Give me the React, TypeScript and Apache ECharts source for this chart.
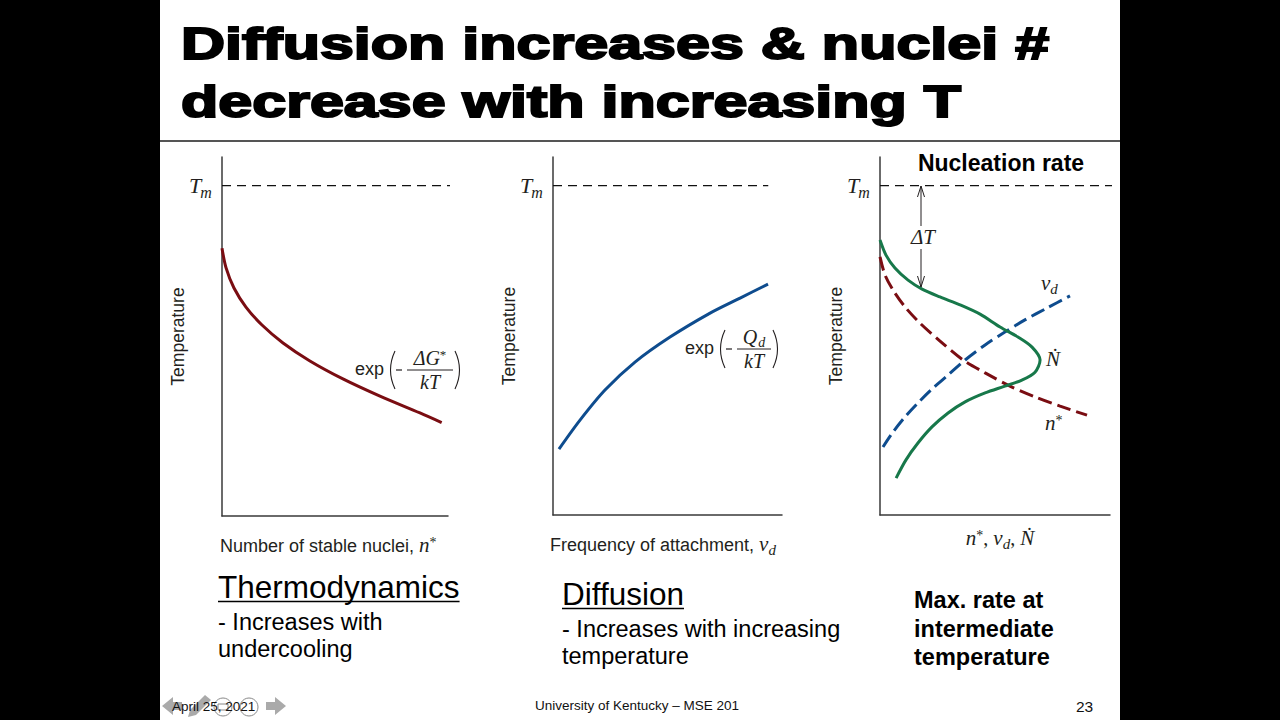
import React, { useEffect, useRef } from "react";
import * as echarts from "echarts";

// ---- Slide text ----
const TITLE_LINES = ["Diffusion increases & nuclei #", "decrease with increasing T"];
const PANEL_TITLE = "Nucleation rate";
const Y_NAME = "Temperature";
const X_NAME_LEFT = "Number of stable nuclei, ";
const X_NAME_MID = "Frequency of attachment, ";
const NOTE_LEFT = ["Thermodynamics", "- Increases with", "undercooling"];
const NOTE_MID = ["Diffusion", "- Increases with increasing", "temperature"];
const NOTE_RIGHT = ["Max. rate at", "intermediate", "temperature"];
const FOOTER_DATE = "April 25, 2021";
const FOOTER_CENTER = "University of Kentucky \u2013 MSE 201";
const FOOTER_PAGE = "23";

// ---- Curve data (x: relative amount, y: relative temperature, both 0..100) ----
const TM = 92;
const TM_LINE_END = [105, 94, 101.7];
// Left panel: stable nuclei n*
const nucleiCurve: [number, number][] = [
  [0, 74.6], [1.8, 69.1], [5.3, 63.5], [10.6, 58.2], [17.7, 53.2], [27.0, 48.2],
  [38.9, 43.2], [53.5, 38.2], [69.9, 33.4], [87.6, 28.7], [97.2, 26.0],
];
// Middle panel: attachment frequency nu_d
const attachCurve: [number, number][] = [
  [2.6, 18.4], [11.8, 26.5], [22.7, 34.9], [35.8, 42.7], [51.1, 49.7], [68.6, 56.4],
  [81.7, 60.6], [93.9, 64.5],
];
// Right panel: nucleation rate N-dot and the two factors
const rateCurve: [number, number][] = [
  [0, 76.8], [2.6, 72.6], [6.5, 69.0], [12.2, 65.6], [18.3, 63.1], [26.1, 60.9],
  [34.8, 58.7], [43.5, 56.1], [52.2, 52.5], [60.0, 49.7], [66.1, 46.9], [69.6, 43.3],
  [67.4, 39.9], [61.7, 37.7], [54.3, 36.0], [45.7, 34.1], [37.0, 31.6], [29.6, 28.5],
  [22.6, 24.6], [16.5, 20.1], [11.3, 15.4], [7.0, 10.3],
];
const nucleiDashed: [number, number][] = [
  [0, 72.1], [2.2, 67.0], [5.7, 62.8], [10.9, 58.1], [17.4, 53.6], [26.1, 48.6],
  [36.1, 43.3], [45.7, 39.7], [56.5, 36.0], [67.4, 33.0], [78.3, 30.4], [90.0, 27.9],
];
const attachDashed: [number, number][] = [
  [1.3, 19.0], [5.7, 23.2], [10.9, 27.4], [16.5, 31.3], [22.6, 35.2], [29.6, 39.1],
  [37.0, 43.3], [45.7, 47.5], [54.3, 51.1], [63.0, 54.5], [72.6, 57.8], [82.6, 61.2],
];

const RED = "#7a0d12";
const BLUE = "#0e4c8e";
const GREEN = "#17784a";
const INK = "#231f20";

const FONT_SANS = "'Liberation Sans', Arial, Helvetica, sans-serif";
const FONT_SERIF = "'Liberation Serif', 'DejaVu Serif', 'Times New Roman', serif";

let measureCtx: CanvasRenderingContext2D | null = null;
function textWidth(t: string, font: string): number {
  if (!measureCtx) measureCtx = document.createElement("canvas").getContext("2d");
  if (!measureCtx) return t.length * 10;
  measureCtx.font = font;
  return measureCtx.measureText(t).width;
}

type Piece = { t: string; s: number; serif?: boolean; italic?: boolean; bold?: boolean; dy?: number; gap?: number };

function fontOf(p: Piece) {
  return `${p.italic ? "italic " : ""}${p.bold ? "bold " : ""}${p.s}px ${p.serif ? FONT_SERIF : FONT_SANS}`;
}

// Lays out a run of differently styled text pieces along a baseline.
function run(x: number, baseline: number, list: Piece[], anchor: "left" | "center" = "left", color = INK): any[] {
  const widths = list.map((p) => textWidth(p.t, fontOf(p)) + (p.gap || 0));
  const total = widths.reduce((a, b) => a + b, 0);
  let cx = anchor === "center" ? x - total / 2 : x;
  return list.map((p, i) => {
    cx += p.gap || 0;
    const el = {
      type: "text",
      x: cx,
      y: baseline + (p.dy || 0) - 0.35 * p.s,
      z: 20,
      silent: true,
      style: {
        text: p.t,
        fontSize: p.s,
        fontFamily: p.serif ? FONT_SERIF : FONT_SANS,
        fontStyle: p.italic ? "italic" : "normal",
        fontWeight: p.bold ? "bold" : "normal",
        fill: color,
        align: "left",
        verticalAlign: "middle",
      },
    };
    cx += widths[i] - (p.gap || 0);
    return el;
  });
}

function runWidth(list: Piece[]) {
  return list.map((p) => textWidth(p.t, fontOf(p)) + (p.gap || 0)).reduce((a, b) => a + b, 0);
}

const thin = { stroke: INK, lineWidth: 1.1, fill: "none" };

// exp( - num / den ) with a stacked fraction
function expFormula(x: number, cy: number, num: Piece[], den: Piece[], fracW: number): any[] {
  const els: any[] = [];
  els.push(...run(x, cy + 5, [{ t: "exp", s: 18 }]));
  const pl = x + 34;
  els.push({ type: "bezierCurve", z: 20, silent: true, shape: { x1: pl + 6, y1: cy - 19, cpx1: pl - 3, cpy1: cy, x2: pl + 6, y2: cy + 19 }, style: thin });
  els.push({ type: "line", z: 20, silent: true, shape: { x1: pl + 7, y1: cy, x2: pl + 13, y2: cy }, style: { stroke: INK, lineWidth: 1.2 } });
  const fl = pl + 18;
  els.push({ type: "line", z: 20, silent: true, shape: { x1: fl, y1: cy, x2: fl + fracW, y2: cy }, style: { stroke: INK, lineWidth: 1 } });
  els.push(...run(fl + fracW / 2, cy - 5, num, "center"));
  els.push(...run(fl + fracW / 2, cy + 19, den, "center"));
  const pr = fl + fracW + 2;
  els.push({ type: "bezierCurve", z: 20, silent: true, shape: { x1: pr, y1: cy - 19, cpx1: pr + 9, cpy1: cy, x2: pr, y2: cy + 19 }, style: thin });
  return els;
}

function tmLabel(x: number): any[] {
  return run(x, 193, [
    { t: "T", s: 22, serif: true, italic: true },
    { t: "m", s: 16, serif: true, italic: true, dy: 5, gap: -1 },
  ]);
}

const GRIDS = [
  { left: 222, top: 157, width: 226, height: 359 },
  { left: 553, top: 157, width: 229, height: 358 },
  { left: 880, top: 157, width: 230, height: 358 },
];

function axis(name?: string) {
  return {
    type: "value",
    min: 0,
    max: 100,
    z: 5,
    axisTick: { show: false },
    axisLabel: { show: false },
    splitLine: { show: false },
    axisLine: { show: true, onZero: false, lineStyle: { color: "#3a3a3a", width: 1.5 } },
    ...(name
      ? {
          name,
          nameLocation: "middle",
          nameRotate: 90,
          nameGap: 35,
          nameTextStyle: { fontSize: 17.5, fontFamily: FONT_SANS, color: INK },
        }
      : {}),
  };
}

function curve(idx: number, data: [number, number][], color: string, dashed: boolean) {
  return {
    type: "line",
    xAxisIndex: idx,
    yAxisIndex: idx,
    data,
    smooth: 0.3,
    symbol: "none",
    clip: false,
    silent: true,
    z: 6,
    lineStyle: { color, width: 3, type: dashed ? [14, 6] : "solid", cap: "butt" },
  };
}

function tmLine(idx: number) {
  return {
    type: "line",
    xAxisIndex: idx,
    yAxisIndex: idx,
    data: [[0, TM], [TM_LINE_END[idx], TM]],
    symbol: "none",
    clip: false,
    silent: true,
    z: 6,
    lineStyle: { color: "#111", width: 1.3, type: [9, 6] },
  };
}

function buildGraphics(): any[] {
  const g: any[] = [];
  // side bars
  g.push({ type: "rect", z: 1, silent: true, shape: { x: 0, y: 0, width: 160, height: 720 }, style: { fill: "#000" } });
  g.push({ type: "rect", z: 1, silent: true, shape: { x: 1120, y: 0, width: 160, height: 720 }, style: { fill: "#000" } });

  // title
  const titleFont = `bold 45px ${FONT_SANS}`;
  const sx = 868 / textWidth(TITLE_LINES[0], titleFont);
  [43.5, 101].forEach((y, i) => {
    g.push({
      type: "text", x: 181, y, scaleX: sx, z: 20, silent: true,
      style: {
        text: TITLE_LINES[i], fontSize: 45, fontWeight: "bold", fontFamily: FONT_SANS,
        fill: "#000", stroke: "#000", lineWidth: 2, align: "left", verticalAlign: "middle",
      },
    });
  });
  g.push({ type: "line", z: 20, silent: true, shape: { x1: 160, y1: 141, x2: 1120, y2: 141 }, style: { stroke: "#555", lineWidth: 2 } });

  // melting temperature labels
  g.push(...tmLabel(189), ...tmLabel(520), ...tmLabel(847));

  // x axis names
  g.push(...run(220, 552, [
    { t: X_NAME_LEFT, s: 18 },
    { t: "n", s: 21, serif: true, italic: true },
    { t: "*", s: 14, serif: true, dy: -5 },
  ]));
  g.push(...run(550, 551, [
    { t: X_NAME_MID, s: 18 },
    { t: "\u03BD", s: 21, serif: true, italic: true },
    { t: "d", s: 15, serif: true, italic: true, dy: 4 },
  ]));
  g.push(...run(1000, 545, [
    { t: "n", s: 21, serif: true, italic: true },
    { t: "*", s: 14, serif: true, dy: -5 },
    { t: ", ", s: 20, serif: true },
    { t: "\u03BD", s: 21, serif: true, italic: true },
    { t: "d", s: 15, serif: true, italic: true, dy: 4 },
    { t: ", ", s: 20, serif: true },
    { t: "\u1E44", s: 21, serif: true, italic: true },
  ], "center"));

  // formulas
  g.push(...expFormula(355, 370, [
    { t: "\u0394", s: 20, serif: true, italic: true },
    { t: "G", s: 20, serif: true, italic: true },
    { t: "*", s: 13, serif: true, dy: -6 },
  ], [
    { t: "k", s: 20, serif: true, italic: true },
    { t: "T", s: 20, serif: true, italic: true },
  ], 46));
  g.push(...expFormula(685, 349, [
    { t: "Q", s: 20, serif: true, italic: true },
    { t: "d", s: 14, serif: true, italic: true, dy: 3, gap: 1 },
  ], [
    { t: "k", s: 20, serif: true, italic: true },
    { t: "T", s: 20, serif: true, italic: true },
  ], 34));

  // right panel annotations
  g.push(...run(1001, 171, [{ t: PANEL_TITLE, s: 23, bold: true }], "center", "#000"));
  g.push(...run(1041, 290, [
    { t: "\u03BD", s: 21, serif: true, italic: true },
    { t: "d", s: 15, serif: true, italic: true, dy: 4 },
  ]));
  g.push(...run(1046, 366, [{ t: "\u1E44", s: 21, serif: true, italic: true }]));
  g.push(...run(1045, 430, [
    { t: "n", s: 21, serif: true, italic: true },
    { t: "*", s: 14, serif: true, dy: -5 },
  ]));

  // undercooling arrow
  const ax = 921;
  const arrow = { stroke: INK, lineWidth: 1 };
  g.push({ type: "line", z: 20, silent: true, shape: { x1: ax, y1: 186, x2: ax, y2: 226 }, style: arrow });
  g.push({ type: "line", z: 20, silent: true, shape: { x1: ax, y1: 249, x2: ax, y2: 287 }, style: arrow });
  g.push({ type: "polyline", z: 20, silent: true, shape: { points: [[ax - 3.5, 197], [ax, 186], [ax + 3.5, 197]] }, style: { ...arrow, fill: "none" } });
  g.push({ type: "polyline", z: 20, silent: true, shape: { points: [[ax - 3.5, 276], [ax, 287], [ax + 3.5, 276]] }, style: { ...arrow, fill: "none" } });
  g.push(...run(923, 244, [
    { t: "\u0394", s: 21, serif: true, italic: true },
    { t: "T", s: 21, serif: true, italic: true },
  ], "center"));

  // notes under the panels
  const note = (x: number, ys: number[], lines: string[], big: boolean, bold = false) => {
    lines.forEach((t, i) => {
      const s = big && i === 0 ? 31.5 : 23.5;
      g.push(...run(x, ys[i], [{ t, s, bold }], "left", "#000"));
      if (big && i === 0) {
        const w = runWidth([{ t, s }]);
        g.push({ type: "line", z: 20, silent: true, shape: { x1: x, y1: ys[0] + 3.5, x2: x + w, y2: ys[0] + 3.5 }, style: { stroke: "#000", lineWidth: 1.6 } });
      }
    });
  };
  note(218, [598, 630, 657], NOTE_LEFT, true);
  note(562, [605, 637, 664], NOTE_MID, true);
  note(914, [608, 637, 665], NOTE_RIGHT, false, true);

  // footer: slide-show controls and text
  const ctl = { fill: "#8d8d8d", opacity: 0.75 };
  g.push({ type: "polygon", z: 15, silent: true, shape: { points: [[162, 706], [173, 697], [173, 702], [182, 702], [182, 710], [173, 710], [173, 715]] }, style: ctl });
  g.push({ type: "polygon", z: 15, silent: true, shape: { points: [[188, 717], [190, 710], [205, 695], [211, 700], [196, 715]] }, style: ctl });
  g.push({ type: "circle", z: 15, silent: true, shape: { cx: 223, cy: 707, r: 9 }, style: { fill: "rgba(255,255,255,0.4)", stroke: "#888", lineWidth: 1 } });
  g.push({ type: "rect", z: 15, silent: true, shape: { x: 218, y: 704, width: 10, height: 6 }, style: { fill: "none", stroke: "#888", lineWidth: 1 } });
  g.push({ type: "circle", z: 15, silent: true, shape: { cx: 249, cy: 707, r: 9 }, style: { fill: "rgba(255,255,255,0.4)", stroke: "#888", lineWidth: 1 } });
  g.push({ type: "polygon", z: 15, silent: true, shape: { points: [[286, 706], [275, 697], [275, 702], [266, 702], [266, 710], [275, 710], [275, 715]] }, style: ctl });
  g.push(...run(172, 711, [{ t: FOOTER_DATE, s: 13.5 }], "left", "#111"));
  g.push(...run(637, 710, [{ t: FOOTER_CENTER, s: 13.5 }], "center", "#111"));
  g.push(...run(1076, 712, [{ t: FOOTER_PAGE, s: 15.5 }], "left", "#111"));
  return g;
}

export default function App() {
  const ref = useRef<HTMLDivElement>(null);
  useEffect(() => {
    if (!ref.current) return;
    document.body.style.margin = "0";
    const chart = echarts.init(ref.current, undefined, { renderer: "svg" });
    chart.setOption({
      animation: false,
      backgroundColor: "#fff",
      grid: GRIDS.map((gr) => ({ ...gr, containLabel: false })),
      xAxis: GRIDS.map((_, i) => ({ ...axis(), gridIndex: i })),
      yAxis: GRIDS.map((_, i) => ({ ...axis(Y_NAME), gridIndex: i })),
      series: [
        tmLine(0), tmLine(1), tmLine(2),
        curve(0, nucleiCurve, RED, false),
        curve(1, attachCurve, BLUE, false),
        curve(2, nucleiDashed, RED, true),
        curve(2, attachDashed, BLUE, true),
        curve(2, rateCurve, GREEN, false),
      ],
      graphic: buildGraphics(),
    });
    return () => chart.dispose();
  }, []);
  return <div ref={ref} style={{ position: "fixed", left: 0, top: 0, width: 1280, height: 720 }} />;
}
